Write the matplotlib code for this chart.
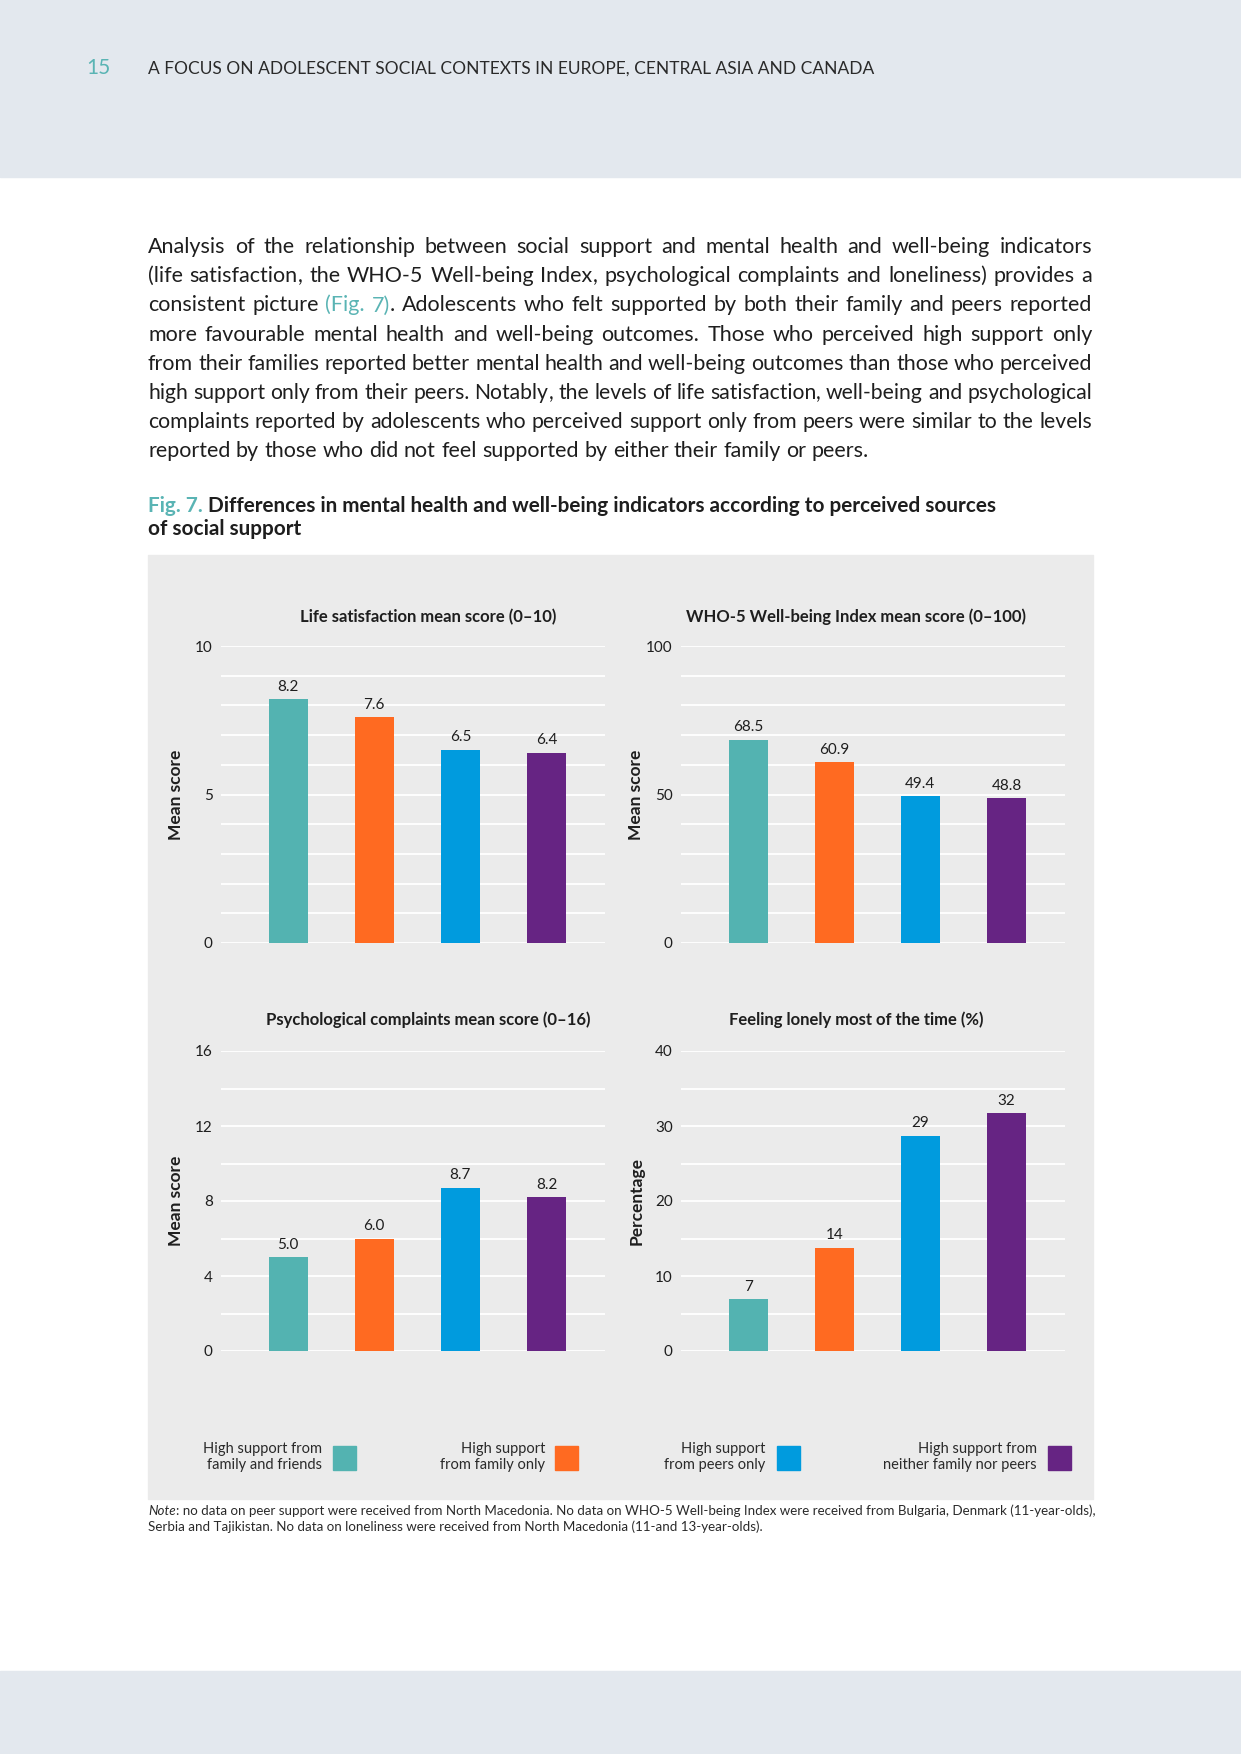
import matplotlib
matplotlib.use('Agg')
import matplotlib.pyplot as plt
from matplotlib.patches import Rectangle

plt.rcParams['font.family'] = 'Lato'

# data
groups = ['High support from\nfamily and friends', 'High support\nfrom family only',
          'High support\nfrom peers only', 'High support from\nneither family nor peers']
colors = ['#53B3B1', '#FF6A21', '#009BDE', '#662483']

life_sat = [8.2, 7.6, 6.5, 6.4]
who5 = [68.5, 60.9, 49.4, 48.8]
psy_compl = [5.0, 6.0, 8.7, 8.2]
lonely = [6.9, 13.8, 28.7, 31.7]

chart_titles = ['Life satisfaction mean score (0–10)', 'WHO-5 Well-being Index mean score (0–100)',
                'Psychological complaints mean score (0–16)', 'Feeling lonely most of the time (%)']
y_labels = ['Mean score', 'Mean score', 'Mean score', 'Percentage']
y_max = [10, 100, 16, 40]
y_major = [5, 50, 4, 10]
y_minor = [1, 10, 2, 5]
value_fmt = ['{:.1f}', '{:.1f}', '{:.1f}', '{:.0f}']

paragraph = [
    "Analysis of the relationship between social support and mental health and well-being indicators",
    "(life satisfaction, the WHO-5 Well-being Index, psychological complaints and loneliness) provides a",
    "consistent picture (Fig. 7). Adolescents who felt supported by both their family and peers reported",
    "more favourable mental health and well-being outcomes. Those who perceived high support only",
    "from their families reported better mental health and well-being outcomes than those who perceived",
    "high support only from their peers. Notably, the levels of life satisfaction, well-being and psychological",
    "complaints reported by adolescents who perceived support only from peers were similar to the levels",
    "reported by those who did not feel supported by either their family or peers.",
]

TEAL = '#5AB4B4'
INK = '#1E1E1E'
W, H = 1241, 1754


def fx(x):
    return x / W


def fy(y):
    return 1 - y / H


fig = plt.figure(figsize=(W / 100, H / 100), dpi=100)
fig.patch.set_facecolor('white')
renderer = fig.canvas.get_renderer()


def text_width(s, **kw):
    t = fig.text(0, 0, s, **kw)
    w = t.get_window_extent(renderer).width
    t.remove()
    return w


def fit_size(s, target, base, **kw):
    return base * target / text_width(s, fontsize=base, **kw)


# page bands and chart panel
fig.patches.append(Rectangle((0, fy(177)), 1, 177 / H, transform=fig.transFigure,
                             color='#E3E8EE', zorder=-2))
fig.patches.append(Rectangle((0, 0), 1, (H - 1671) / H, transform=fig.transFigure,
                             color='#E3E8EE', zorder=-2))
fig.patches.append(Rectangle((fx(148), fy(1499)), fx(1093) - fx(148), (1499 - 555) / H,
                             transform=fig.transFigure, color='#EBEBEB', zorder=-2))

# header
fig.text(fx(86), fy(74), '15', color=TEAL, fontsize=15, va='baseline')
header = 'A FOCUS ON ADOLESCENT SOCIAL CONTEXTS IN EUROPE, CENTRAL ASIA AND CANADA'
hs = fit_size(header, 725, 14)
fig.text(fx(148), fy(74), header, color='#2A2A2A', fontsize=hs, va='baseline')

# justified paragraph, one word at a time (trailing commas drawn on their own)
left, right = 148, 1092
para_size = 15.5
for i, line in enumerate(paragraph):
    y = fy(253 + i * 29.2)
    words = line.split(' ')
    size = min(para_size, fit_size(line, right - left, para_size))
    widths = [text_width(w, fontsize=size) for w in words]
    if i < len(paragraph) - 1:
        gap = (right - left - sum(widths)) / (len(words) - 1)
    else:
        gap = text_width('a a', fontsize=size) - text_width('aa', fontsize=size)
    x = left
    for w, wd in zip(words, widths):
        if w == '(Fig.':
            pieces = [(w, TEAL)]
        elif w == '7).':
            pieces = [('7)', TEAL), ('.', INK)]
        elif w.endswith(','):
            pieces = [(w[:-1], INK), (',', INK)]
        else:
            pieces = [(w, INK)]
        xp = x
        for s, c in pieces:
            fig.text(fx(xp), y, s, color=c, fontsize=size, va='baseline')
            xp += text_width(s, fontsize=size)
        x += wd + gap

# figure caption
cap1a = 'Fig. 7.'
cap1b = ' Differences in mental health and well-being indicators according to perceived sources'
cs = fit_size(cap1a + cap1b, 853, 14, fontweight='bold')
fig.text(fx(148), fy(512), cap1a, color=TEAL, fontsize=cs, fontweight='bold', va='baseline')
wa = text_width(cap1a, fontsize=cs, fontweight='bold')
fig.text(fx(148 + wa), fy(512), cap1b, color=INK, fontsize=cs, fontweight='bold',
         va='baseline')
fig.text(fx(148), fy(535), 'of social support', color=INK, fontsize=cs, fontweight='bold',
         va='baseline')

# the four bar charts
boxes = [(221, 646, 943), (681, 646, 943), (221, 1051, 1351), (681, 1051, 1351)]
title_pos = [(428, 617), (856, 617), (428, 1020), (856, 1020)]
series = [life_sat, who5, psy_compl, lonely]

for k in range(4):
    x0, ytop, ybot = boxes[k]
    ax = fig.add_axes([fx(x0), fy(ybot), (605 - 221) / W, (ybot - ytop) / H])
    ax.set_facecolor('none')
    pos = range(len(series[k]))
    bars = ax.bar(pos, series[k], width=0.45, color=colors, zorder=3)
    for b, v in zip(bars, series[k]):
        ax.annotate(value_fmt[k].format(v), (b.get_x() + b.get_width() / 2, v),
                    xytext=(0, 4), textcoords='offset points', ha='center', va='bottom',
                    fontsize=11, color=INK)
    ax.set_xlim(-0.78, 3.68)
    ax.set_ylim(0, y_max[k])
    ax.set_yticks(range(0, y_max[k] + 1, y_major[k]))
    ax.set_yticks(range(0, y_max[k] + 1, y_minor[k]), minor=True)
    ax.grid(axis='y', which='both', color='white', linewidth=1.3, zorder=0)
    ax.set_xticks([])
    ax.tick_params(axis='y', which='both', length=0, pad=6, labelsize=11, labelcolor=INK)
    for s in ax.spines.values():
        s.set_visible(False)
    ax.set_ylabel(y_labels[k], fontsize=12.5, fontweight='bold', color=INK)
    ax.yaxis.set_label_coords(-0.096, 0.5)
    tx, ty = title_pos[k]
    fig.text(fx(tx), fy(ty), chart_titles[k], ha='center', va='center', fontsize=12,
             fontweight='bold', color=INK)

# legend
leg_text_right = [322, 545, 765, 1037]
leg_square_left = [333, 555, 777, 1048]
for lbl, c, tr, sl in zip(groups, colors, leg_text_right, leg_square_left):
    l1, l2 = lbl.split('\n')
    fig.text(fx(tr), fy(1453), l1, ha='right', va='baseline', fontsize=10.5, color='#2A2A2A')
    fig.text(fx(tr), fy(1469), l2, ha='right', va='baseline', fontsize=10.5, color='#2A2A2A')
    fig.patches.append(Rectangle((fx(sl), fy(1470)), 23 / W, 24 / H,
                                 transform=fig.transFigure, color=c, zorder=2))

# note
note1 = (': no data on peer support were received from North Macedonia. No data on WHO-5 '
         'Well-being Index were received from Bulgaria, Denmark (11-year-olds),')
note2 = 'Serbia and Tajikistan. No data on loneliness were received from North Macedonia (11-and 13-year-olds).'
wn = text_width('Note', fontsize=10, fontstyle='italic')
ns = 10 * (1093 - 148) / (wn + text_width(note1, fontsize=10))
wn = text_width('Note', fontsize=ns, fontstyle='italic')
fig.text(fx(148), fy(1515), 'Note', fontsize=ns, fontstyle='italic', color='#2A2A2A',
         va='baseline')
fig.text(fx(148 + wn), fy(1515), note1, fontsize=ns, color='#2A2A2A', va='baseline')
fig.text(fx(148), fy(1531), note2, fontsize=ns, color='#2A2A2A', va='baseline')

fig.savefig('out.png', dpi=100)
